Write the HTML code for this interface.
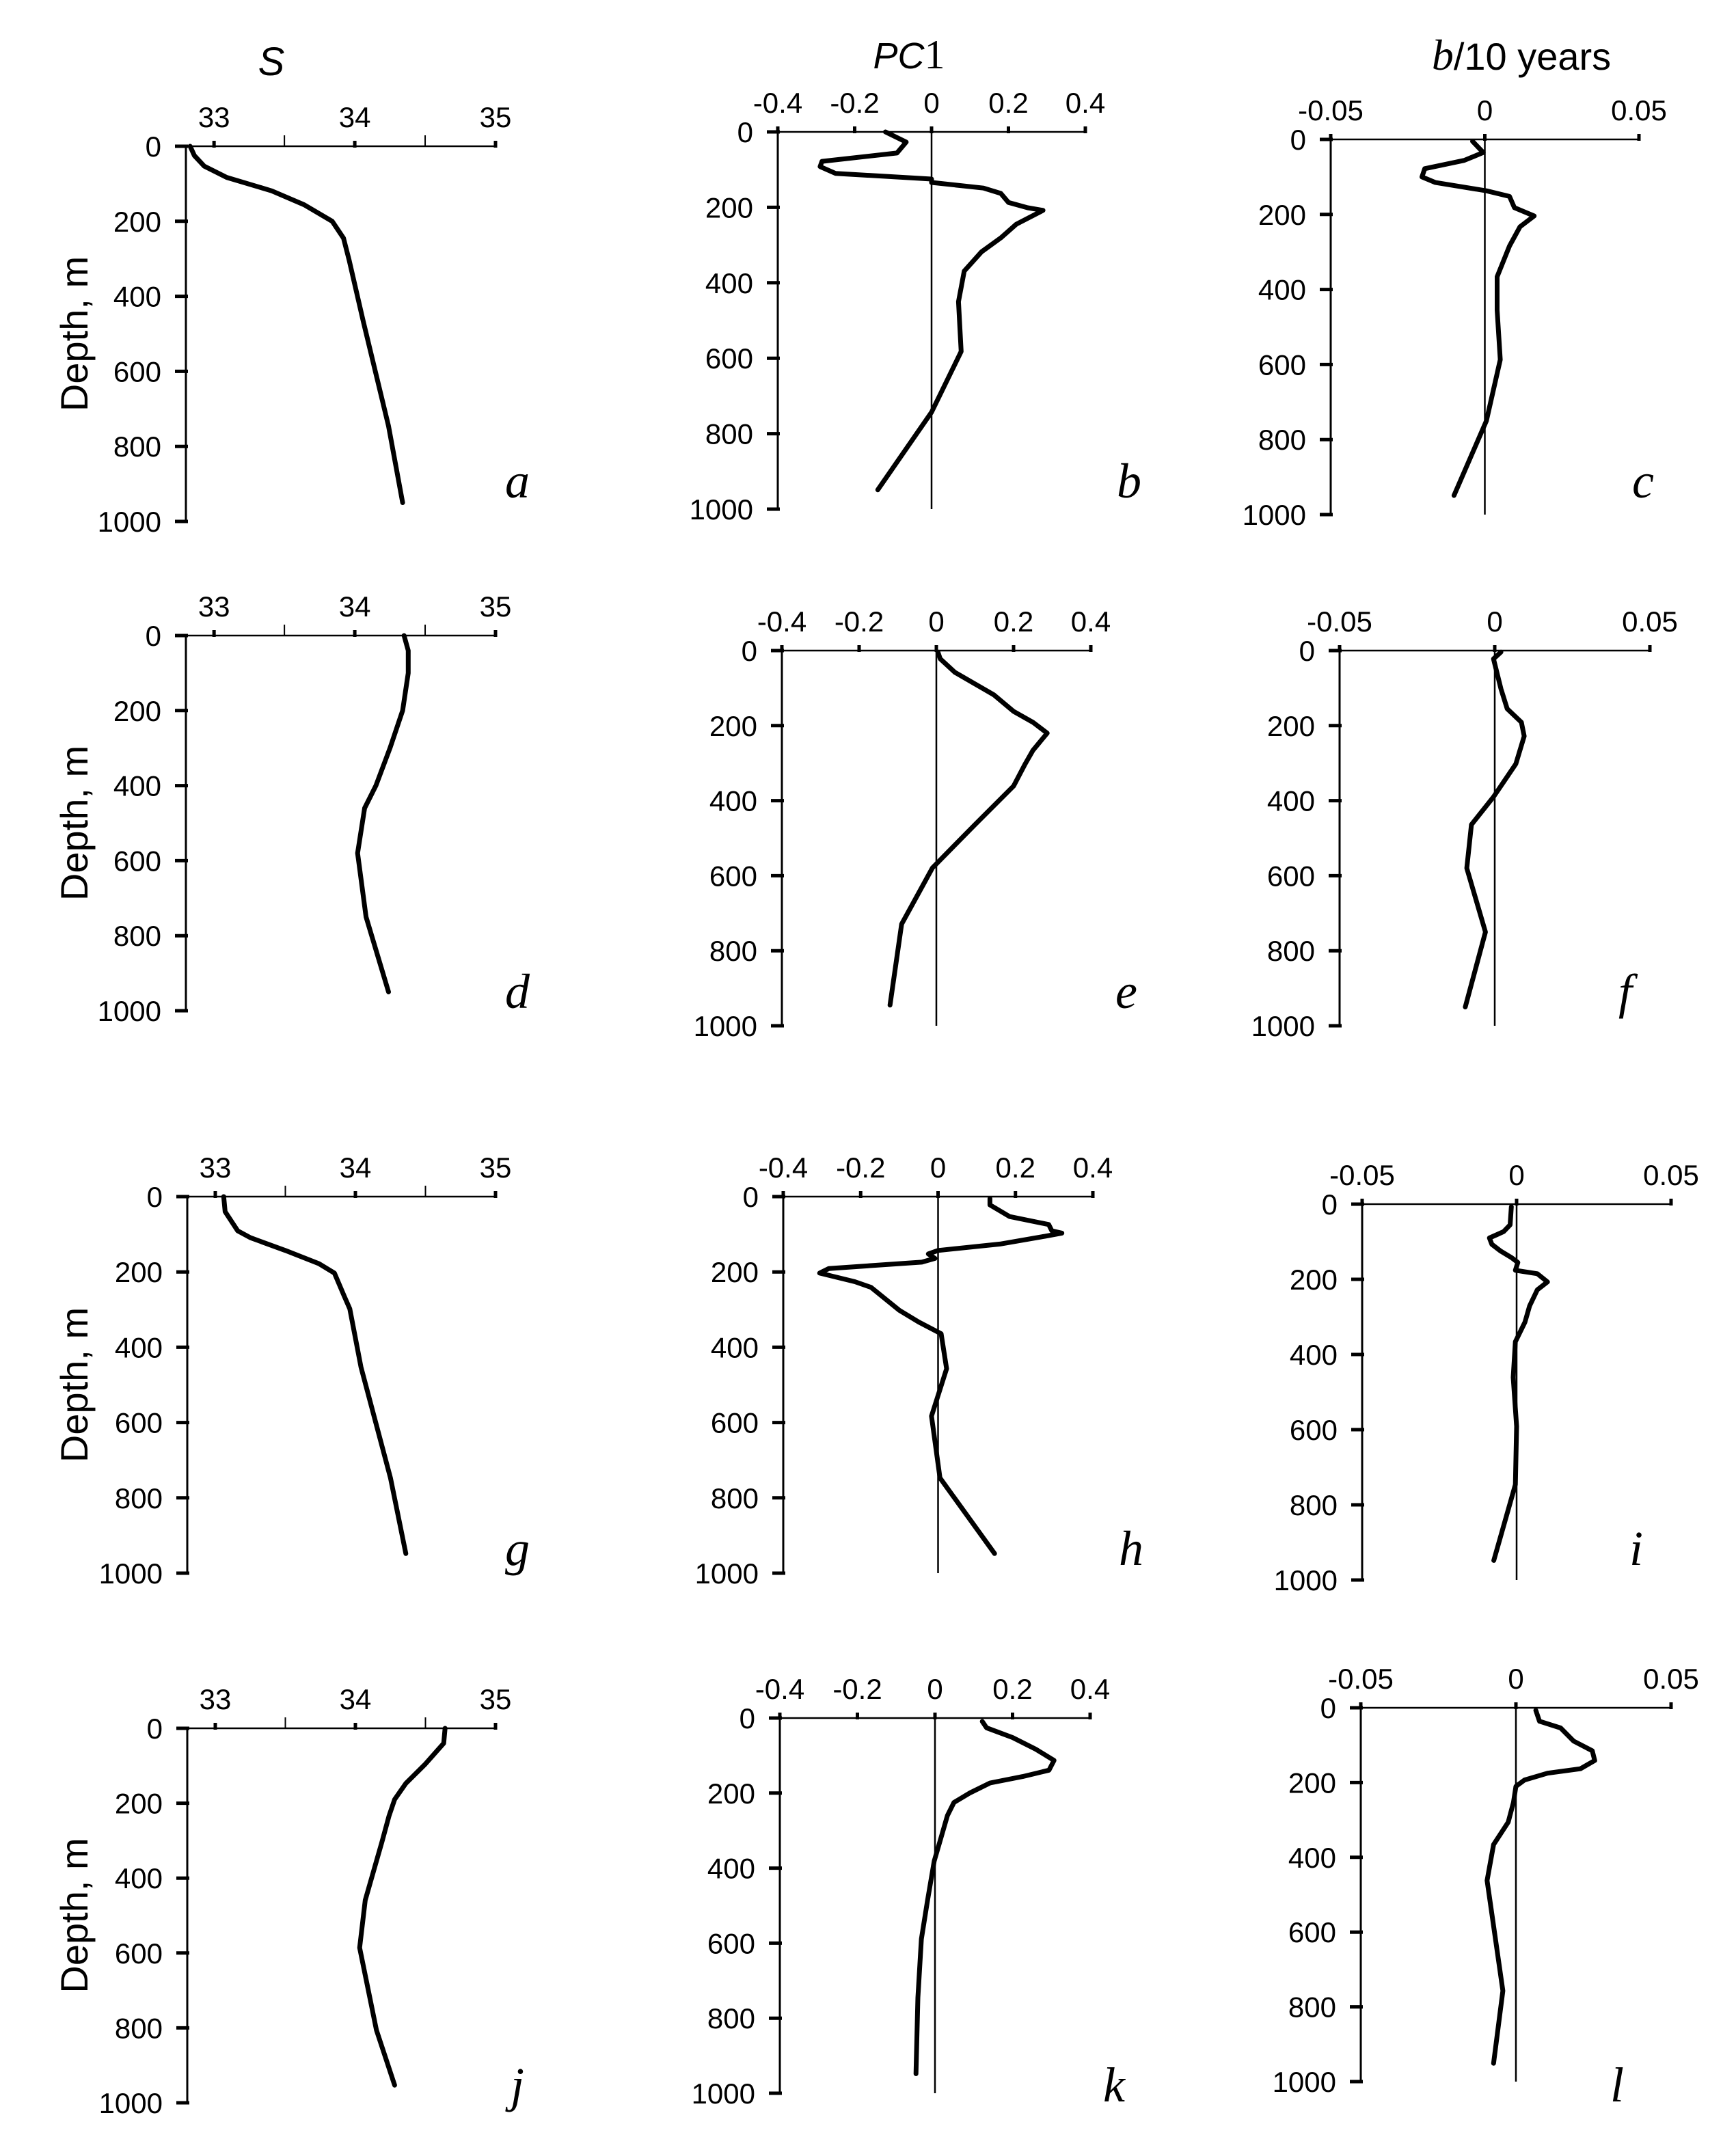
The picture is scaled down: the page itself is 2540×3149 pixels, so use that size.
<!DOCTYPE html>
<html><head><meta charset="utf-8">
<style>
html,body{margin:0;padding:0;background:#fff;}
svg{display:block;}
.tk{font-family:"Liberation Sans Narrow","Liberation Sans",sans-serif;font-size:42px;fill:#000;}
.ttl{font-family:"Liberation Sans",sans-serif;font-size:56px;fill:#000;}
.let{font-family:"Liberation Serif",serif;font-style:italic;font-size:72px;fill:#000;}
</style></head>
<body>
<svg id="fig" width="2540" height="3149" viewBox="0 0 2540 3149" xmlns="http://www.w3.org/2000/svg">
<text x="397" y="110" text-anchor="middle" style="font-family:'Liberation Sans',sans-serif;font-style:italic;font-size:58px">S</text>
<text x="1330" y="100" text-anchor="middle"><tspan style="font-family:'Liberation Sans',sans-serif;font-style:italic;font-size:54px">PC</tspan><tspan style="font-family:'Liberation Serif',serif;font-size:60px">1</tspan></text>
<text x="2226" y="102" text-anchor="middle"><tspan style="font-family:'Liberation Serif',serif;font-style:italic;font-size:64px">b</tspan><tspan style="font-family:'Liberation Sans',sans-serif;font-size:56px">/10 years</tspan></text>
</svg>
<script>
// Panel data: depth (m) and values
const depthA=[0,25,53,83,119,156,200,245,304,466,746,950];
const valA=[32.83,32.86,32.93,33.09,33.41,33.64,33.84,33.92,33.96,34.06,34.24,34.34];
const depthB=[0,27,56,78,92,110,125,134,149,163,187,201,208,245,281,318,369,450,582,743,949];
const valB=[-0.12,-0.066,-0.09,-0.285,-0.29,-0.25,0.0,0.0,0.135,0.18,0.2,0.25,0.29,0.22,0.18,0.13,0.085,0.07,0.077,0.0,-0.14];
const depthC=[5,35,56,78,100,115,137,152,182,204,233,284,366,455,587,750,949];
const valC=[-0.004,-0.0005,-0.0067,-0.0195,-0.0204,-0.016,0.0005,0.008,0.0096,0.016,0.0114,0.008,0.004,0.004,0.005,0.0005,-0.010];
const depthD=[0,40,100,200,300,400,460,580,750,950];
const valD=[34.35,34.38,34.38,34.34,34.25,34.15,34.07,34.02,34.08,34.24];
const depthE=[4,22,58,118,162,191,220,266,302,361,464,579,729,945];
const valE=[0.004,0.01,0.048,0.149,0.2,0.25,0.287,0.25,0.23,0.2,0.1,-0.01,-0.09,-0.12];
const depthF=[4,22,102,155,191,228,302,390,464,580,750,950];
const valF=[0.002,-0.0004,0.002,0.004,0.0086,0.0095,0.0068,-0.0004,-0.0075,-0.009,-0.003,-0.0095];
const depthG=[0,40,91,109,143,178,203,264,298,453,747,948];
const valG=[33.06,33.07,33.16,33.25,33.50,33.74,33.85,33.92,33.96,34.04,34.25,34.36];
const depthH=[5,22,53,74,91,97,105,126,143,152,164,174,191,203,226,241,302,333,364,457,583,747,948];
const valH=[0.134,0.134,0.185,0.286,0.294,0.32,0.277,0.16,0,-0.025,-0.008,-0.042,-0.282,-0.306,-0.215,-0.173,-0.1,-0.05,0.008,0.022,-0.017,0.005,0.146];
const depthI=[7,55,73,81,90,107,124,142,155,176,185,207,228,271,314,366,461,591,746,948];
const valI=[-0.0017,-0.0021,-0.0042,-0.0063,-0.0088,-0.008,-0.0053,-0.0017,0.0004,-0.0004,0.0067,0.010,0.0067,0.0042,0.0027,-0.0004,-0.0011,0,-0.0004,-0.0074];
const depthJ=[0,40,95,147,190,234,303,459,586,806,953];
const valJ=[34.64,34.63,34.50,34.36,34.28,34.24,34.19,34.07,34.03,34.15,34.28];
const depthK=[9,26,52,83,113,139,156,173,199,225,260,321,381,485,589,745,948];
const valK=[0.122,0.133,0.2,0.26,0.307,0.294,0.226,0.142,0.091,0.049,0.032,0.015,-0.002,-0.019,-0.035,-0.044,-0.049];
const depthL=[7,36,54,89,115,141,163,175,193,210,253,306,366,462,757,951];
const valL=[0.0064,0.0076,0.0144,0.0186,0.0246,0.0254,0.0208,0.0102,0.0028,0,-0.0008,-0.0025,-0.0072,-0.0093,-0.0042,-0.0072];
const depthTicks=[0,200,400,600,800,1000];
const sTicks=["33","34","35"];
const sMinor=[33.5,34.5];
const pcTicks=["-0.4","-0.2","0","0.2","0.4"];
const bTicks=["-0.05","0","0.05"];

const NS="http://www.w3.org/2000/svg";
const svg=document.getElementById('fig');
function mk(tag,attrs){const e=document.createElementNS(NS,tag);for(const k in attrs)e.setAttribute(k,attrs[k]);svg.appendChild(e);return e;}

const panels=[
 {id:'a',kind:'s',ax:272,plo:272,phi:725,vlo:32.8,hi:35,y0:214,y1:763,depth:depthA,val:valA,lx:757,ly:728,ylab:true},
 {id:'b',kind:'pc',ax:1138,plo:1138,phi:1588,vlo:-0.4,hi:0.4,y0:193,y1:745,depth:depthB,val:valB,lx:1652,ly:728},
 {id:'c',kind:'bt',ax:1947,plo:1947,phi:2398,vlo:-0.05,hi:0.05,y0:204,y1:753,depth:depthC,val:valC,lx:2404,ly:728},
 {id:'d',kind:'s',ax:272,plo:272,phi:725,vlo:32.8,hi:35,y0:930,y1:1479,depth:depthD,val:valD,lx:757,ly:1475,ylab:true},
 {id:'e',kind:'pc',ax:1144,plo:1144,phi:1596,vlo:-0.4,hi:0.4,y0:952,y1:1501,depth:depthE,val:valE,lx:1648,ly:1475},
 {id:'f',kind:'bt',ax:1960,plo:1960,phi:2414,vlo:-0.05,hi:0.05,y0:952,y1:1501,depth:depthF,val:valF,lx:2378,ly:1475},
 {id:'g',kind:'s',ax:274,plo:274,phi:725,vlo:32.8,hi:35,y0:1751,y1:2302,depth:depthG,val:valG,lx:757,ly:2290,ylab:true},
 {id:'h',kind:'pc',ax:1146,plo:1146,phi:1599,vlo:-0.4,hi:0.4,y0:1751,y1:2302,depth:depthH,val:valH,lx:1655,ly:2290},
 {id:'i',kind:'bt',ax:1993,plo:1993,phi:2445,vlo:-0.05,hi:0.05,y0:1762,y1:2312,depth:depthI,val:valI,lx:2394,ly:2290},
 {id:'j',kind:'s',ax:274,plo:274,phi:725,vlo:32.8,hi:35,y0:2529,y1:3077,depth:depthJ,val:valJ,lx:757,ly:3075,ylab:true},
 {id:'k',kind:'pc',ax:1141,plo:1141,phi:1595,vlo:-0.4,hi:0.4,y0:2514,y1:3063,depth:depthK,val:valK,lx:1630,ly:3075},
 {id:'l',kind:'bt',ax:1991,plo:1991,phi:2445,vlo:-0.05,hi:0.05,y0:2499,y1:3046,depth:depthL,val:valL,lx:2366,ly:3075}
];

panels.forEach(p=>{
  const xs=v=>p.plo+(v-p.vlo)/(p.hi-p.vlo)*(p.phi-p.plo);
  const ys=d=>p.y0+d/1000*(p.y1-p.y0);
  const ya=mk('line',{x1:p.ax,y1:p.y0,x2:p.ax,y2:p.y1,stroke:'#000','stroke-width':3});
  
  
  const xa=mk('line',{x1:p.ax-10,y1:p.y0,x2:p.phi,y2:p.y0,stroke:'#000','stroke-width':2.5});
  
  
  depthTicks.forEach(d=>{
    const y=ys(d);
    const t=mk('line',{x1:p.ax-16,y1:y,x2:p.ax+3,y2:y,stroke:'#000','stroke-width':5});
    
    
    const lb=mk('text',{x:p.ax-36,y:y+15,'text-anchor':'end','class':'tk'});
    lb.textContent=String(d);
    
    
  });
  const labels=p.kind==='s'?sTicks:(p.kind==='pc'?pcTicks:bTicks);
  labels.forEach(s=>{
    const x=xs(parseFloat(s));
    const t=mk('line',{x1:x,y1:p.y0-8,x2:x,y2:p.y0+2,stroke:'#000','stroke-width':5});
    
    
    const lb=mk('text',{x:x,y:p.y0-28,'text-anchor':'middle','class':'tk'});
    lb.textContent=s;
    
    
  });
  if(p.kind==='s'){
    sMinor.forEach(v=>{
      const x=xs(v);
      const t=mk('line',{x1:x,y1:p.y0-16,x2:x,y2:p.y0,stroke:'#000','stroke-width':2});
      
      
    });
  } else {
    const z=mk('line',{x1:xs(0),y1:p.y0,x2:xs(0),y2:p.y1,stroke:'#000','stroke-width':2.5});
    
    
  }
  const pts=p.depth.map((d,i)=>xs(p.val[i]).toFixed(1)+','+ys(d).toFixed(1)).join(' ');
  const pl=mk('polyline',{points:pts,fill:'none',stroke:'#000','stroke-width':7,'stroke-linejoin':'round','stroke-linecap':'round'});
  
  
  const L=mk('text',{x:p.lx,y:p.ly,'text-anchor':'middle','class':'let'});
  L.textContent=p.id;
  
  
  if(p.ylab){
    const cy=(p.y0+p.y1)/2;
    const yt=mk('text',{x:0,y:0,'text-anchor':'middle','class':'ttl',transform:'translate(128,'+cy+') rotate(-90)'});
    yt.textContent='Depth, m';
    
    
  }
});
</script>
</body></html>
